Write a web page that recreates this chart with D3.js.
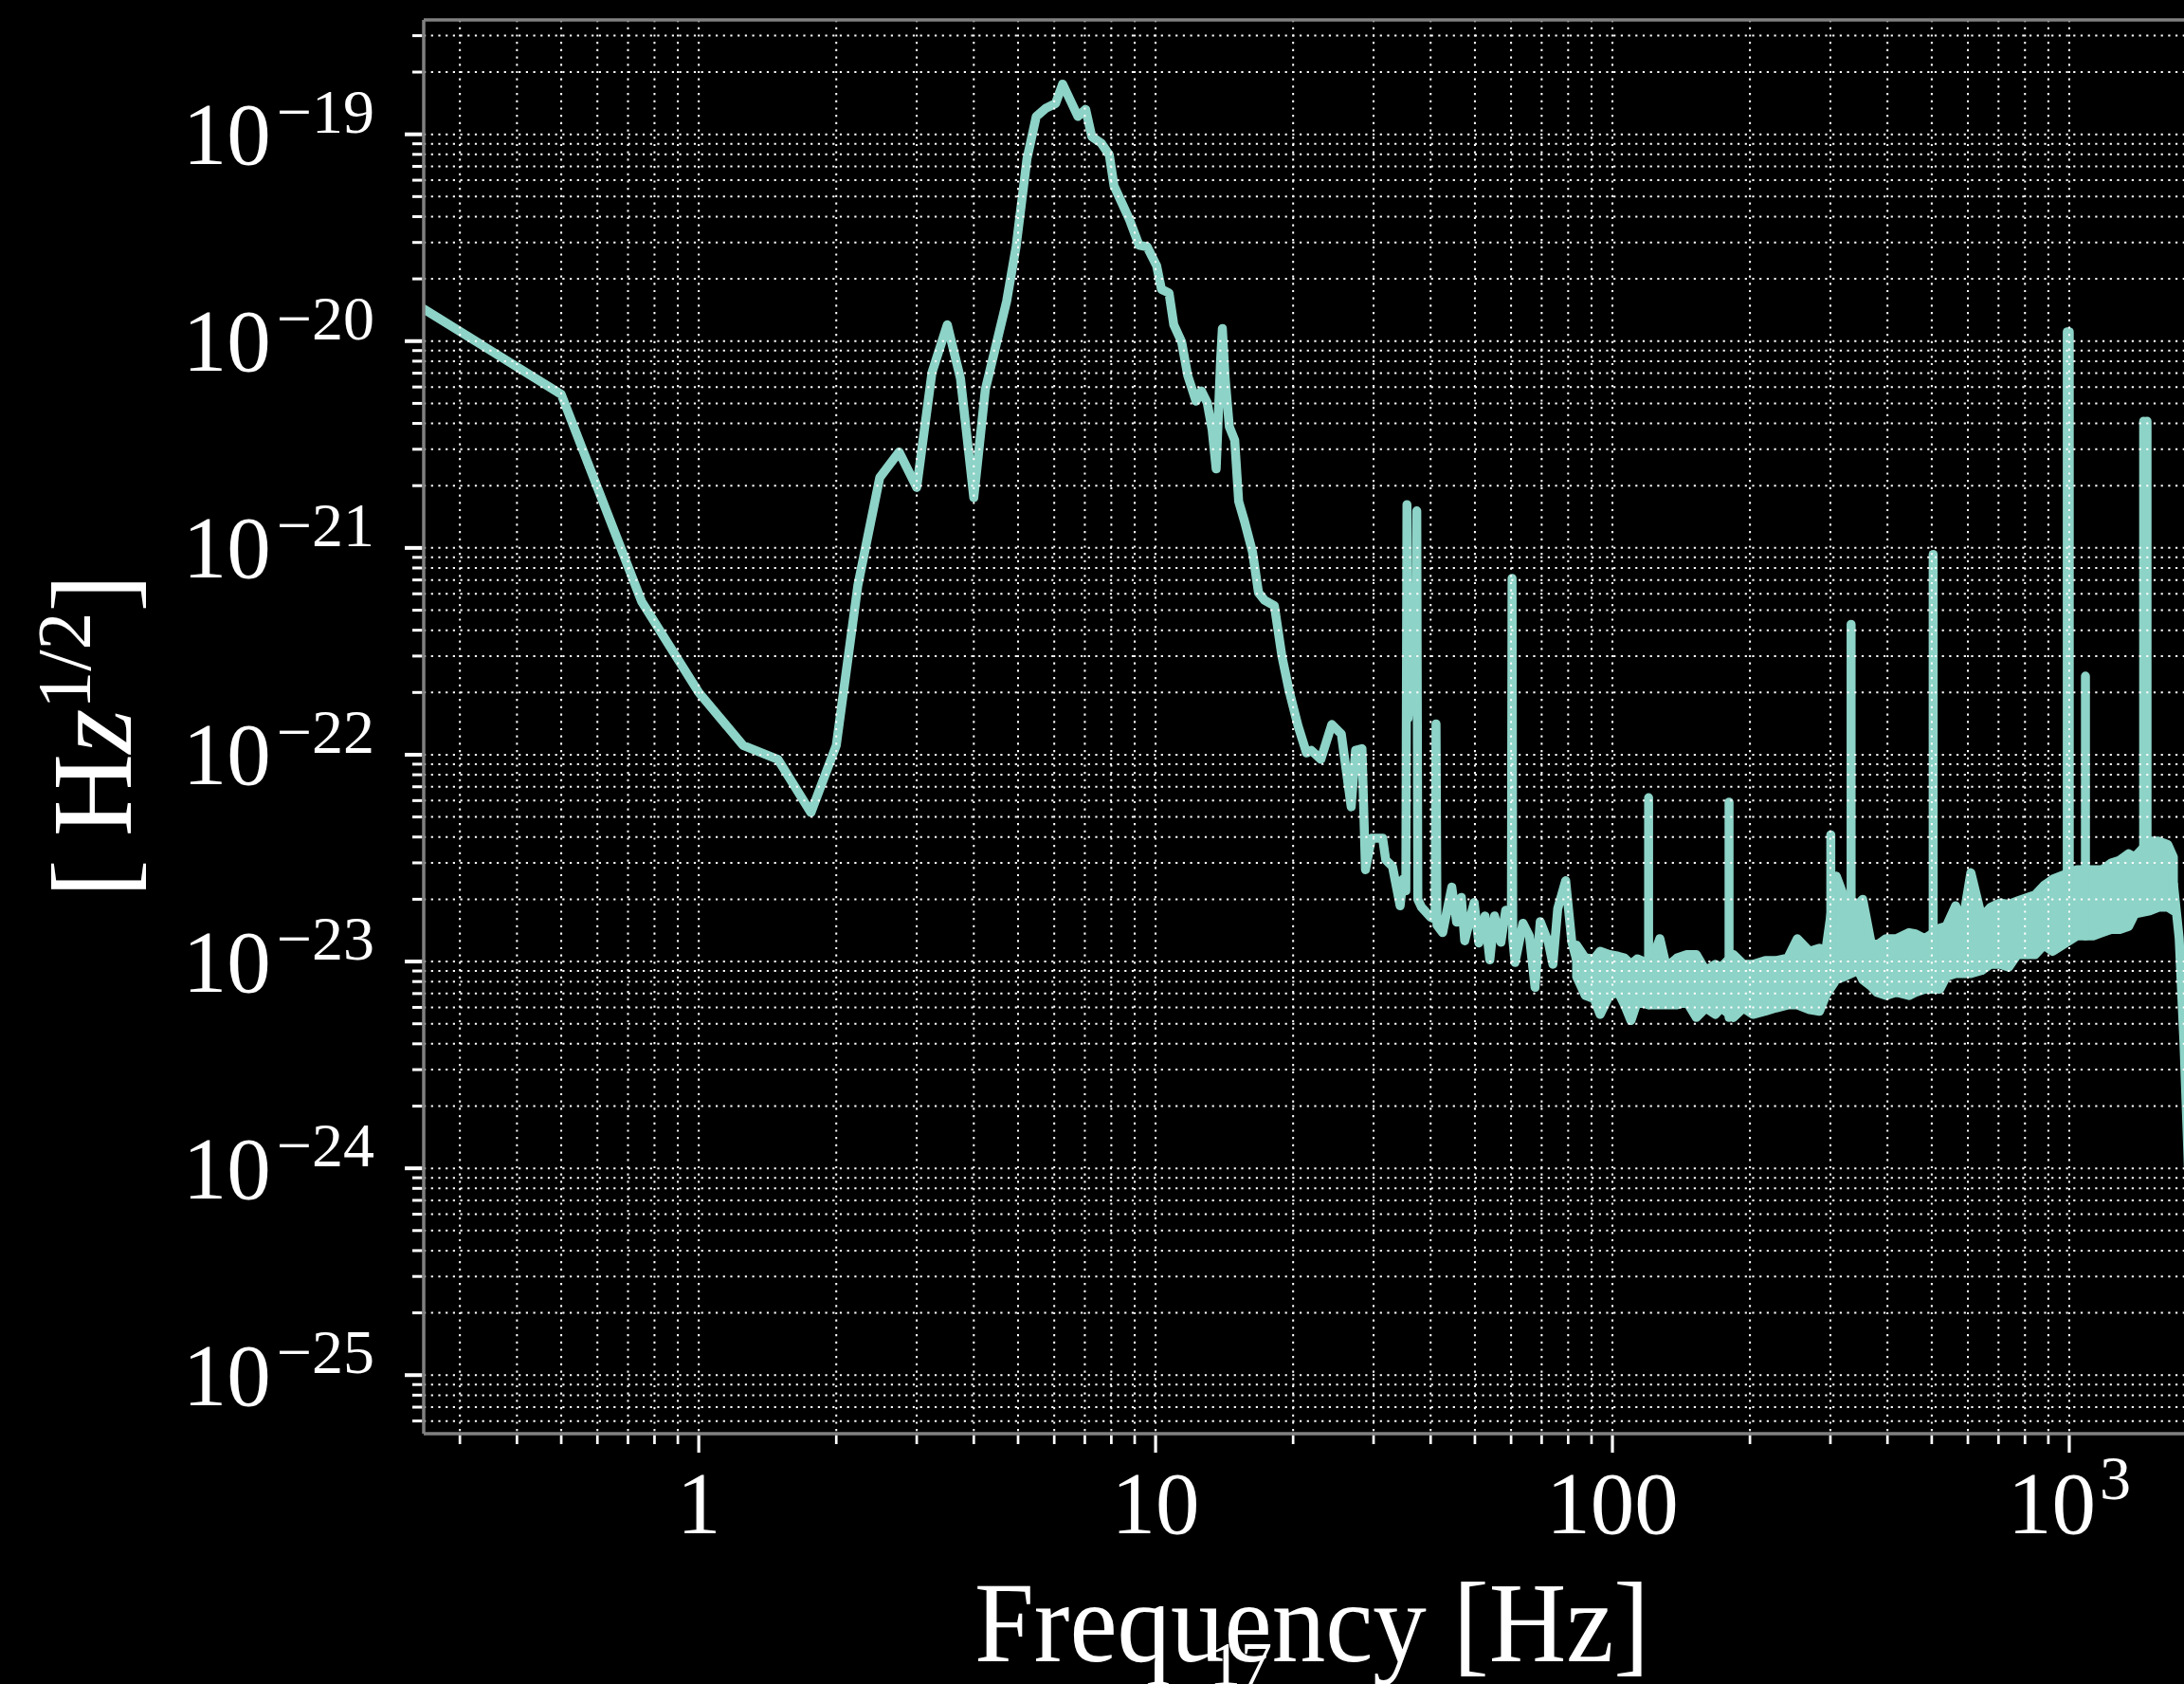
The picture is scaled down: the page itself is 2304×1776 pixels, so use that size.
<!DOCTYPE html>
<html>
<head>
<meta charset="utf-8">
<script src="https://cdn.jsdelivr.net/npm/d3@7"></script>
<style>
  html, body { margin: 0; padding: 0; background: #000; }
  svg { display: block; }
  text { font-family: "Liberation Serif", "DejaVu Serif", serif; fill: #fff; }
</style>
</head>
<body>
<svg id="chart" width="2304" height="1776"></svg>
<script>
// ASD below ~85 Hz, one plain line
const lowFreq = [0.25, 0.5, 0.75, 1.0, 1.25, 1.49, 1.76, 2.0, 2.23, 2.49, 2.745, 3.0, 3.24, 3.5, 3.74, 4.0,
  4.24, 4.72, 4.95, 5.23, 5.48, 5.76, 6.04, 6.26, 6.76, 7.03, 7.25, 7.61, 7.92, 8.11, 8.77, 9.2, 9.58,
  10.05, 10.3, 10.7, 10.96, 11.4, 11.76, 12.26, 12.6, 12.97, 13.3, 13.57, 13.87, 14.0, 14.2, 14.5, 14.9,
  15.2, 15.66, 16.3, 16.8, 17.3, 18.2, 18.9, 19.6, 20.5, 21.4, 21.9, 23.0, 24.3, 25.5, 26.8, 27.4, 28.3,
  28.8, 29.7, 31.4, 31.9, 33.0, 34.3, 34.8, 35.3, 35.5, 35.7, 36.4, 37.1, 37.3, 37.5, 38.2, 40.0, 40.9,
  41.1, 41.3, 42.5, 44.5, 45.6, 46.7, 47.5, 49.8, 51.0, 52.6, 53.9, 55.2, 57.0, 58.4, 60.1, 60.3, 60.5,
  61.2, 63.7, 65.8, 67.7, 69.5, 72.4, 74.1, 75.9, 79.0, 81.5, 83.5];
const lowAsd = [1.43e-20, 5.53e-21, 5.5e-22, 2.0e-22, 1.11e-22, 9.5e-23, 5.25e-23, 1.11e-22, 6.6e-22, 2.19e-21,
  2.91e-21, 1.96e-21, 7.06e-21, 1.2e-20, 6.6e-21, 1.75e-21, 5.85e-21, 1.56e-20, 2.86e-20, 7.62e-20,
  1.22e-19, 1.34e-19, 1.41e-19, 1.75e-19, 1.22e-19, 1.32e-19, 9.75e-20, 9.04e-20, 7.94e-20, 5.64e-20,
  3.86e-20, 2.91e-20, 2.86e-20, 2.32e-20, 1.78e-20, 1.71e-20, 1.2e-20, 9.93e-21, 6.81e-21, 5.13e-21,
  5.74e-21, 5.04e-21, 3.72e-21, 2.41e-21, 7.91e-21, 1.15e-20, 6.61e-21, 3.86e-21, 3.32e-21, 1.68e-21,
  1.34e-21, 9.55e-22, 6.08e-22, 5.6e-22, 5.25e-22, 3.0e-22, 2.04e-22, 1.38e-22, 1.02e-22, 1.05e-22,
  9.5e-23, 1.4e-22, 1.26e-22, 5.6e-23, 1.05e-22, 1.07e-22, 2.78e-23, 3.95e-23, 3.95e-23, 3.1e-23,
  2.88e-23, 1.86e-23, 2.5e-23, 2.2e-23, 1.62e-21, 1.5e-22, 3.0e-22, 1.6e-22, 1.51e-21, 2.0e-23, 1.83e-23,
  1.64e-23, 1.6e-23, 1.41e-22, 1.5e-23, 1.38e-23, 2.29e-23, 1.55e-23, 2.04e-23, 1.26e-23, 1.93e-23,
  1.23e-23, 1.66e-23, 1.02e-23, 1.66e-23, 1.24e-23, 1.77e-23, 1.6e-23, 7.13e-22, 1.3e-23, 9.9e-24,
  1.53e-23, 1.33e-23, 7.5e-24, 1.56e-23, 1.24e-23, 9.7e-24, 1.8e-23, 2.46e-23, 1.24e-23, 1.02e-23];

// noisy floor above ~85 Hz, as upper and lower envelope
const bandFreq = [83.5, 87.2, 91.2, 94.0, 98.5, 103, 106.3, 109.8, 113.3, 121, 127, 131.3, 138.5, 145.5,
  152.6, 160, 168, 173, 184, 193.5, 203, 216, 228, 242, 254, 270, 284, 293, 309, 322, 345, 353, 368, 379,
  397, 418, 446, 461, 483, 521, 538, 564, 584, 609, 643, 673, 705, 737, 770, 805, 842, 880, 920, 1040,
  1128, 1180, 1234, 1290, 1349, 1391, 1500, 1570, 1643, 1690];
const bandHi = [1.2e-23, 1.04e-23, 1.03e-23, 1.12e-23, 1.08e-23, 1.06e-23, 1.04e-23, 9.7e-24, 1.03e-23,
  9.7e-24, 1.29e-23, 9.4e-24, 1.04e-23, 1.08e-23, 1.08e-23, 9.05e-24, 9.7e-24, 9.4e-24, 1.08e-23,
  9.7e-24, 9.7e-24, 1.01e-23, 1.01e-23, 1.04e-23, 1.29e-23, 1.12e-23, 1.16e-23, 1.12e-23, 2.59e-23,
  2.03e-23, 1.89e-23, 2.0e-23, 1.24e-23, 1.2e-23, 1.29e-23, 1.29e-23, 1.38e-23, 1.36e-23, 1.29e-23,
  1.45e-23, 1.48e-23, 1.86e-23, 1.53e-23, 2.69e-23, 1.64e-23, 1.83e-23, 1.92e-23, 1.89e-23, 1.96e-23,
  2.03e-23, 2.1e-23, 2.33e-23, 2.5e-23, 2.78e-23, 2.78e-23, 2.78e-23, 2.99e-23, 3.09e-23, 3.32e-23,
  3.2e-23, 3.82e-23, 3.82e-23, 3.68e-23, 3.2e-23];
const bandLo = [8.45e-24, 6.85e-24, 6.6e-24, 5.55e-24, 6.85e-24, 7.1e-24, 6.17e-24, 5.18e-24, 6.38e-24,
  6.17e-24, 6.17e-24, 6.17e-24, 6.17e-24, 6.38e-24, 5.36e-24, 5.96e-24, 5.55e-24, 5.96e-24, 5.36e-24,
  5.96e-24, 5.55e-24, 5.75e-24, 5.96e-24, 6.17e-24, 6.17e-24, 5.85e-24, 5.75e-24, 6.85e-24, 8.17e-24,
  8.45e-24, 9.05e-24, 8.17e-24, 7.6e-24, 7.1e-24, 6.85e-24, 7.1e-24, 6.85e-24, 7.1e-24, 7.35e-24,
  7.35e-24, 8.45e-24, 8.75e-24, 8.75e-24, 8.75e-24, 9.05e-24, 9.7e-24, 9.7e-24, 9.4e-24, 1.08e-23,
  1.08e-23, 1.08e-23, 1.2e-23, 1.12e-23, 1.33e-23, 1.33e-23, 1.38e-23, 1.43e-23, 1.43e-23, 1.48e-23,
  1.7e-23, 1.76e-23, 1.83e-23, 1.83e-23, 1.76e-23];

// lines sticking out of the floor
const spikeFreq = [120, 180, 300.6, 333, 503.6, 990, 1000, 1085, 1455, 1480];
const spikeAsd = [6.2e-23, 5.9e-23, 4.1e-23, 4.27e-22, 9.3e-22, 1.11e-20, 1.11e-20, 2.4e-22, 4.1e-21, 4.1e-21];

// anti-alias roll-off at the top end
const tailFreq = [1690, 1740, 1783, 1850, 2000];
const tailAsd = [2.4e-23, 1.3e-23, 4.0e-24, 4.0e-25, 6.3e-26];

const yTickExp = [-25, -24, -23, -22, -21, -20, -19];
const xTickVals = [1, 10, 100, 1000];
const xTickMain = ["1", "10", "100", "10"];
const xTickSup = ["", "", "", "3"];

const color = "#8dd3c7";
const lw = 9.5;
const pLeft = 447, pRight = 2333, pTop = 21, pBottom = 1512;

const svg = d3.select("#chart");
svg.append("rect").attr("width", 2304).attr("height", 1776).attr("fill", "#000");

const x = d3.scaleLog().domain([0.25, 2048]).range([pLeft, pRight]);
const y = d3.scaleLog().domain([5.21e-26, 3.575e-19]).range([pBottom, pTop]);

svg.append("clipPath").attr("id", "plotclip")
  .append("rect").attr("x", pLeft).attr("y", pTop).attr("width", pRight - pLeft).attr("height", pBottom - pTop);

const data = svg.append("g").attr("clip-path", "url(#plotclip)");

// floor band
const band = bandFreq.map((f, i) => ({ f: f, hi: bandHi[i], lo: bandLo[i] }));
data.append("path")
  .datum(band)
  .attr("d", d3.area().x(d => x(d.f)).y0(d => y(d.lo)).y1(d => y(d.hi)))
  .attr("fill", color)
  .attr("stroke", color)
  .attr("stroke-width", lw)
  .attr("stroke-linejoin", "round");

// spikes, from the floor up
data.selectAll("line.spike")
  .data(spikeFreq.map((f, i) => ({ f: f, v: spikeAsd[i], base: bandLo[Math.min(d3.bisectLeft(bandFreq, f), bandFreq.length - 1)] })))
  .join("line")
  .attr("class", "spike")
  .attr("x1", d => x(d.f)).attr("x2", d => x(d.f))
  .attr("y1", d => y(d.base)).attr("y2", d => y(d.v))
  .attr("stroke", color)
  .attr("stroke-width", lw)
  .attr("stroke-linecap", "round");

const line = d3.line().x(d => x(d[0])).y(d => y(d[1]));

data.append("path")
  .datum(lowFreq.map((f, i) => [f, lowAsd[i]]))
  .attr("d", line)
  .attr("fill", "none")
  .attr("stroke", color)
  .attr("stroke-width", lw)
  .attr("stroke-linejoin", "round")
  .attr("stroke-linecap", "round");

data.append("path")
  .datum(tailFreq.map((f, i) => [f, tailAsd[i]]))
  .attr("d", line)
  .attr("fill", "none")
  .attr("stroke", color)
  .attr("stroke-width", lw)
  .attr("stroke-linejoin", "round");

// dotted grid, on top of the data
const isMajor = d => Math.abs(Math.log10(d) - Math.round(Math.log10(d))) < 1e-6;
const xt = x.ticks().filter(d => d >= 0.25 && d <= 2048);
const yt = y.ticks();

const grid = svg.append("g")
  .attr("stroke", "#fff")
  .attr("stroke-width", 2)
  .attr("stroke-dasharray", "2.2,5.5");

grid.selectAll("line.gx").data(xt).join("line")
  .attr("class", "gx")
  .attr("x1", d => x(d)).attr("x2", d => x(d))
  .attr("y1", pTop).attr("y2", pBottom);

grid.selectAll("line.gy").data(yt).join("line")
  .attr("class", "gy")
  .attr("x1", pLeft).attr("x2", pRight)
  .attr("y1", d => y(d)).attr("y2", d => y(d));

// frame
const frame = svg.append("g").attr("stroke", "#808080").attr("stroke-width", 3.5).attr("fill", "none");
frame.append("line").attr("x1", pLeft).attr("x2", pLeft).attr("y1", pTop).attr("y2", pBottom);
frame.append("line").attr("x1", pLeft).attr("x2", pRight).attr("y1", pTop).attr("y2", pTop);
frame.append("line").attr("x1", pLeft).attr("x2", pRight).attr("y1", pBottom).attr("y2", pBottom);
frame.append("line").attr("x1", pRight).attr("x2", pRight).attr("y1", pTop).attr("y2", pBottom);

// ticks
const ticks = svg.append("g").attr("stroke", "#fff");

ticks.selectAll("line.tx").data(xt).join("line")
  .attr("class", "tx")
  .attr("x1", d => x(d)).attr("x2", d => x(d))
  .attr("y1", pBottom + 1.75).attr("y2", d => pBottom + (isMajor(d) ? 20 : 11))
  .attr("stroke-width", d => isMajor(d) ? 3.2 : 2.7);

ticks.selectAll("line.ty").data(yt).join("line")
  .attr("class", "ty")
  .attr("y1", d => y(d)).attr("y2", d => y(d))
  .attr("x1", pLeft - 1.75).attr("x2", d => pLeft - (isMajor(d) ? 20 : 12))
  .attr("stroke-width", d => isMajor(d) ? 4 : 3);

// y tick labels
svg.append("g").selectAll("text").data(yTickExp).join("text")
  .attr("x", 395)
  .attr("y", d => y(Math.pow(10, d)) + 31.5)
  .attr("text-anchor", "end")
  .attr("font-size", 93)
  .each(function(d) {
    const t = d3.select(this);
    t.append("tspan").text("10");
    t.append("tspan").attr("dx", 6).attr("dy", -33.5).attr("font-size", 66).text("\u2212" + Math.abs(d));
  });

// x tick labels
svg.append("g").selectAll("text").data(xTickVals).join("text")
  .attr("x", d => x(d))
  .attr("y", 1617)
  .attr("text-anchor", "middle")
  .attr("font-size", 93)
  .each(function(d, i) {
    const t = d3.select(this);
    t.append("tspan").text(xTickMain[i]);
    if (xTickSup[i]) t.append("tspan").attr("dx", 4).attr("dy", -36).attr("font-size", 66).text(xTickSup[i]);
  });

// axis labels
svg.append("text")
  .attr("x", 1384).attr("y", 1752)
  .attr("text-anchor", "middle")
  .attr("font-size", 121)
  .attr("textLength", 712)
  .attr("lengthAdjust", "spacingAndGlyphs")
  .text("Frequency [Hz]");

svg.append("text")
  .attr("x", 1276).attr("y", 1777)
  .attr("font-size", 66)
  .text("17");

const ylab = svg.append("text")
  .attr("transform", "translate(138,776) rotate(-90)")
  .attr("text-anchor", "middle")
  .attr("font-size", 121);
ylab.append("tspan").text("[\u2009H");
ylab.append("tspan").attr("font-style", "italic").text("z");
ylab.append("tspan").attr("dy", -43).attr("font-size", 80).text("1/2");
ylab.append("tspan").attr("dy", 43).text("]");
</script>
</body>
</html>
